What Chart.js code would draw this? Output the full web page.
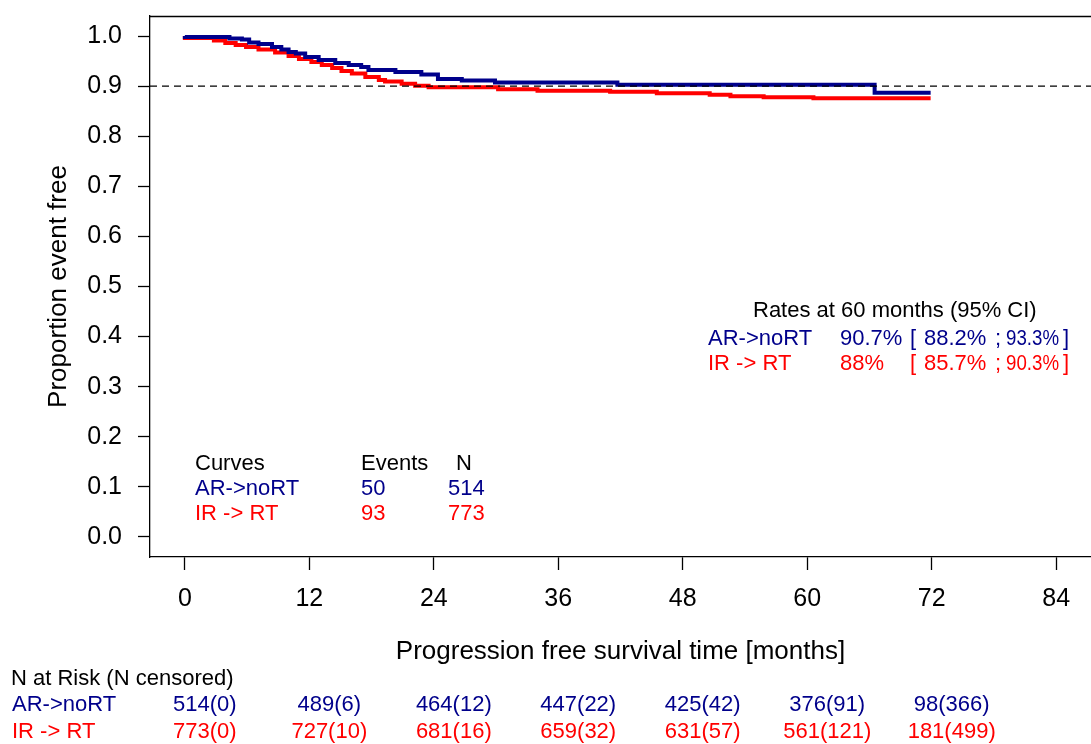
<!DOCTYPE html>
<html>
<head>
<meta charset="utf-8">
<script src="https://cdn.jsdelivr.net/npm/chart.js@4/dist/chart.umd.min.js"></script>
<style>
  html, body { margin: 0; padding: 0; background: #ffffff; }
  #wrap { width: 1091px; height: 744px; }
</style>
</head>
<body>
<div id="wrap"><canvas id="km" width="1091" height="744"></canvas></div>
<script>
// Axis ticks
const monthTicks = [0, 12, 24, 36, 48, 60, 72, 84];
const survTicks = [0, 0.1, 0.2, 0.3, 0.4, 0.5, 0.6, 0.7, 0.8, 0.9, 1.0];

// Groups
const groupNames = ['AR->noRT', 'IR -> RT'];
const groupColors = ['#00008B', '#FF0000'];

// Kaplan-Meier step estimates (time in months, proportion event free)
const arTime = [0, 4.3, 5.5, 6.2, 7.1, 8.4, 9.3, 10.0, 10.7, 11.6, 12.9, 14.5, 15.8, 17.0, 17.7, 20.3, 22.8, 24.4, 26.7, 29.9, 41.7, 66.5, 69.2, 71.9];
const arSurv = [1.0, 0.998, 0.995, 0.993, 0.987, 0.984, 0.978, 0.973, 0.968, 0.965, 0.958, 0.952, 0.946, 0.942, 0.938, 0.932, 0.928, 0.923, 0.914, 0.911, 0.907, 0.903, 0.887, 0.887];
const irTime = [0, 2.8, 3.9, 4.9, 5.9, 7.1, 8.7, 10.0, 11.0, 12.2, 13.2, 14.2, 15.1, 16.1, 17.4, 18.7, 19.3, 20.9, 22.2, 23.5, 30.2, 34.0, 41.0, 45.5, 50.6, 52.6, 55.8, 60.6, 67.3, 71.9];
const irSurv = [1.0, 0.996, 0.991, 0.986, 0.982, 0.978, 0.973, 0.967, 0.960, 0.954, 0.948, 0.942, 0.936, 0.930, 0.925, 0.918, 0.912, 0.909, 0.905, 0.901, 0.898, 0.894, 0.891, 0.889, 0.886, 0.883, 0.880, 0.878, 0.876, 0.876];

// Reference level
const refLevel = 0.9;

// Summary table
const eventCounts = ['50', '93'];
const groupN = ['514', '773'];
const rate60 = ['90.7%', '88%'];
const ciLower = ['88.2%', '85.7%'];
const ciUpper = ['93.3%', '90.3%'];

// Numbers at risk (censored)
const riskMonths = [0, 12, 24, 36, 48, 60, 72];
const arRisk = ['514(0)', '489(6)', '464(12)', '447(22)', '425(42)', '376(91)', '98(366)'];
const irRisk = ['773(0)', '727(10)', '681(16)', '659(32)', '631(57)', '561(121)', '181(499)'];

const FONT = '"Liberation Sans", Arial, Helvetica, sans-serif';
Chart.defaults.font.family = FONT;
Chart.defaults.color = '#000000';

const xMin = -0.04 * 84, xMax = 84 * 1.04;
const yMin = -0.04, yMax = 1.04;

function toPoints(t, s) { return t.map((v, i) => ({ x: v, y: s[i] })); }

// Box top edge and free text (legend, rates, risk table)
const annotations = {
  id: 'annotations',
  afterDraw(chart) {
    const ctx = chart.ctx;
    const ca = chart.chartArea;
    const xs = chart.scales.x;
    ctx.save();
    ctx.strokeStyle = '#000';
    ctx.lineWidth = 1.3;
    ctx.beginPath();
    ctx.moveTo(ca.left, ca.top + 0.5);
    ctx.lineTo(chart.width, ca.top + 0.5);
    ctx.stroke();

    ctx.font = '22px ' + FONT;
    ctx.textBaseline = 'alphabetic';
    ctx.textAlign = 'left';

    // events table
    ctx.fillStyle = '#000';
    ctx.fillText('Curves', 195, 470);
    ctx.fillText('Events', 361, 470);
    ctx.fillText('N', 456, 470);
    for (let g = 0; g < 2; g++) {
      const y = 495 + g * 25;
      ctx.fillStyle = groupColors[g];
      ctx.fillText(groupNames[g], 195, y);
      ctx.fillText(eventCounts[g], 361, y);
      ctx.fillText(groupN[g], 448, y);
    }

    // rates at 60 months
    ctx.fillStyle = '#000';
    ctx.fillText('Rates at 60 months (95% CI)', 753, 317);
    for (let g = 0; g < 2; g++) {
      const y = 345 + g * 25;
      ctx.fillStyle = groupColors[g];
      ctx.fillText(groupNames[g], 708, y);
      ctx.fillText(rate60[g], 840, y);
      ctx.fillText('[', 910, y);
      ctx.fillText(ciLower[g], 924, y);
      ctx.fillText(';', 995, y);
      ctx.fillText(ciUpper[g], 1006, y, 53);
      ctx.fillText(']', 1063, y);
    }

    // numbers at risk
    ctx.fillStyle = '#000';
    ctx.fillText('N at Risk (N censored)', 11, 685);
    const rows = [arRisk, irRisk];
    for (let g = 0; g < 2; g++) {
      const y = 711 + g * 27;
      ctx.fillStyle = groupColors[g];
      ctx.textAlign = 'left';
      ctx.fillText(groupNames[g], 12, y);
      ctx.textAlign = 'center';
      riskMonths.forEach((m, i) => {
        ctx.fillText(rows[g][i], xs.getPixelForValue(m) + 20, y);
      });
    }
    ctx.restore();
  }
};

new Chart(document.getElementById('km'), {
  type: 'line',
  data: {
    datasets: [
      {
        label: 'ref',
        data: [{ x: xMin, y: refLevel }, { x: xMax, y: refLevel }],
        borderColor: '#000', borderWidth: 1.3, borderDash: [7, 5],
        pointRadius: 0, order: 0
      },
      {
        label: groupNames[0],
        data: toPoints(arTime, arSurv),
        borderColor: groupColors[0], borderWidth: 4, stepped: 'after',
        pointRadius: 0, order: 1
      },
      {
        label: groupNames[1],
        data: toPoints(irTime, irSurv),
        borderColor: groupColors[1], borderWidth: 4, stepped: 'after',
        pointRadius: 0, order: 2
      }
    ]
  },
  options: {
    responsive: false,
    animation: false,
    devicePixelRatio: 1,
    layout: { padding: { top: 16, left: 0, right: -4, bottom: 76.4 } },
    plugins: { legend: { display: false }, tooltip: { enabled: false } },
    scales: {
      x: {
        type: 'linear', min: xMin, max: xMax,
        afterBuildTicks: s => { s.ticks = monthTicks.map(v => ({ value: v })); },
        afterFit: s => { s.height = 110.6; s.paddingLeft = 0; s.paddingRight = 0; },
        grid: { drawOnChartArea: false, drawTicks: true, tickLength: 13, color: '#000', tickWidth: 1.3 },
        border: { display: true, color: '#000', width: 1.3 },
        ticks: { font: { size: 25 }, color: '#000', padding: 14, maxRotation: 0, autoSkip: false,
                 callback: v => String(v) },
        title: { display: true, text: 'Progression free survival time [months]',
                 font: { size: 26 }, color: '#000', padding: { top: 0, bottom: 0 } }
      },
      y: {
        type: 'linear', min: yMin, max: yMax,
        afterBuildTicks: s => { s.ticks = survTicks.map(v => ({ value: v })); },
        afterFit: s => { s.width = 150; s.paddingTop = 0; s.paddingBottom = 0; },
        grid: { drawOnChartArea: false, drawTicks: true, tickLength: 12, color: '#000', tickWidth: 1.3 },
        border: { display: true, color: '#000', width: 1.3 },
        ticks: { font: { size: 25 }, color: '#000', padding: 16, callback: v => v.toFixed(1) },
        title: { display: true, text: 'Proportion event free',
                 font: { size: 26 }, color: '#000', padding: { top: 43.4, bottom: 0 } }
      }
    }
  },
  plugins: [annotations]
});
</script>
</body>
</html>
